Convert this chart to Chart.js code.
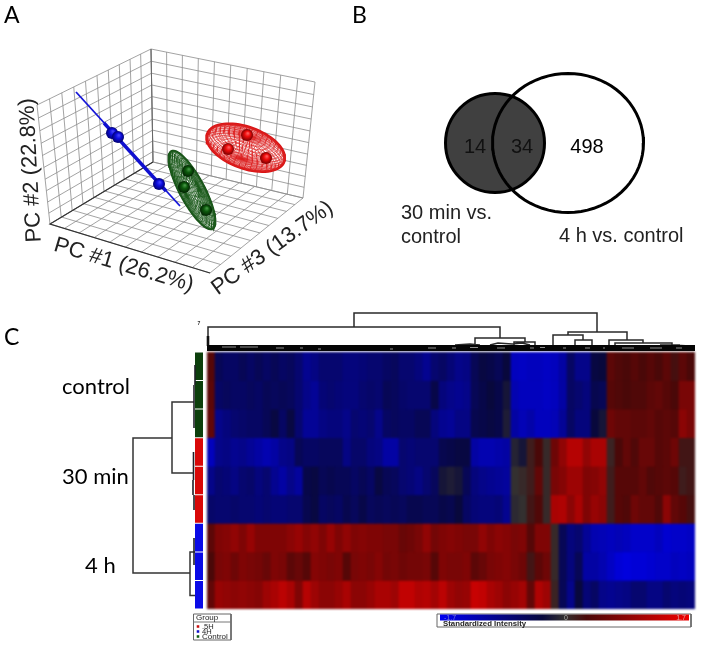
<!DOCTYPE html>
<html>
<head>
<meta charset="utf-8">
<title>PCA, Venn and heat map</title>
<script src="https://cdn.jsdelivr.net/npm/chart.js@4/dist/chart.umd.min.js"></script>
<style>
    html, body { margin: 0; padding: 0; background: #fff; }
    #page { position: relative; width: 714px; height: 651px; overflow: hidden; }
    canvas { position: absolute; filter: blur(0.3px); }
    #heat { background: #201c30; filter: blur(1px); }
</style>
</head>
<body>
<div id="page">
    <canvas id="heat"></canvas>
    <canvas id="panelA"></canvas>
    <canvas id="panelB"></canvas>
    <canvas id="panelC"></canvas>
</div>
<script>
// panel A, PCA samples
const blueSamplesX = [112, 118, 159];
const blueSamplesY = [133, 137, 184];
const greenSamplesX = [188, 184, 206];
const greenSamplesY = [171, 187, 210];
const redSamplesX = [228, 247, 266];
const redSamplesY = [149, 135, 158];
const pcLabels = ['PC #1 (26.2%)', 'PC #2 (22.8%)', 'PC #3 (13.7%)'];

// panel B
const vennCounts = ['14', '34', '498'];
const vennNames = ['30 min vs.', 'control', '4 h vs. control'];

// panel C, standardized intensity per row, 61 gene clusters
const heatRowNames = ['control 1', 'control 2', 'control 3', '30 min 1', '30 min 2', '30 min 3', '4 h 1', '4 h 2', '4 h 3'];
const heatControl1 = [.4,-.5,-.6,-.6,-.5,-.6,-.5,-.6,-.5,-.6,-.55,-.7,-.95,-.85,-.7,-.7,-.7,-.8,-.8,-.75,-.7,-.7,-.6,-.55,-.7,-.7,-.8,-.95,-.7,-.6,-.75,-.9,-.85,-.5,-.35,-.4,-.5,-.3,-1.3,-1.35,-1.3,-1.3,-1.35,-1.3,-1.1,-.6,-.9,-.9,-.35,-.3,.45,.35,.3,.4,.3,.4,.3,.45,.25,.45,.3];
const heatControl2 = [.45,-.6,-.55,-.6,-.6,-.55,-.6,-.5,-.55,-.5,-.55,-.7,-.9,-1,-.75,-.7,-.75,-.8,-.8,-.7,-.65,-.7,-.5,-.55,-.65,-.7,-.7,-.7,-.4,-.8,-.9,-.95,-.9,-.5,-.4,-.3,-.4,-.2,-1.2,-1.3,-1.3,-1.3,-1.35,-1.3,-1.1,-.6,-.7,-.8,-.45,-.5,.4,.35,.3,.35,.35,.45,.5,.4,.3,.7,.7];
const heatControl3 = [.5,-.9,-.8,-.7,-.65,-.6,-.6,-.5,-.35,-.6,-.35,-.7,-1,-1,-.85,-.8,-.8,-.9,-.7,-.75,-.7,-.9,-.6,-.55,-.6,-.6,-.5,-.5,-.8,-.95,-1,-.85,-.85,-.45,-.4,-.35,-.4,-.15,-1.1,-1.25,-1.15,-1.3,-1.3,-1.25,-1,-.6,-.8,-.8,-.3,-.2,.6,.5,.5,.45,.45,.5,.4,.45,.4,.85,.7];
const heat30min1 = [-1.3,-.9,-.85,-.95,-.9,-1,-1.1,-1.2,-1.1,-.9,-.85,-.5,-.6,-.6,-.55,-.55,-.55,-.85,-.65,-.65,-.8,-.85,-1.1,-1.1,-.7,-.75,-.7,-.7,-.7,-.45,-.4,-.35,-.35,-1.1,-1.2,-1.2,-1.15,-1.1,-.1,-.2,.15,.3,.05,.6,.9,1.2,1.2,.9,1.1,1.1,.1,.3,.5,.35,.55,.55,.4,.45,.6,.2,.2];
const heat30min2 = [-.9,-.7,-.75,-.85,-.7,-.65,-.8,-.7,-.95,-1.1,-.9,-1.05,-.4,-.35,-.5,-.45,-.5,-.5,-.6,-.5,-.6,-.35,-.5,-.55,-.7,-.75,-.85,-.7,-.55,-.2,-.15,-.2,-.5,-.8,-.9,-.95,-1,-1.05,0,.05,.15,.5,.05,.7,.8,1,1,.75,.8,.9,.15,.4,.4,.4,.5,.35,.4,.45,.4,.15,.2];
const heat30min3 = [-.65,-.7,-.7,-.65,-.7,-.7,-.75,-.7,-.75,-.75,-.7,-.7,-.45,-.35,-.6,-.55,-.6,-.45,-.55,-.4,-.55,-.5,-.55,-.5,-.55,-.45,-.45,-.5,-.5,-.4,-.45,-.3,-.6,-.75,-.8,-.8,-.75,-.95,-.05,0,.2,.35,.05,1.1,1.15,.85,1.1,.75,.95,.85,.15,.4,.35,.6,.5,.5,.35,.85,.5,.4,.25];
const heat4h1 = [.45,.75,.8,.9,.75,.95,.75,.75,.75,.75,.85,.95,.8,.9,.75,.95,.75,.9,.75,.8,.75,.75,.7,.7,.55,.6,.7,.9,.65,.75,.8,.75,.7,.7,.9,.75,.85,.8,.7,.75,.4,.75,.75,.05,-.5,-.8,-.7,-1,-1.2,-1.25,-1.3,-1.25,-1.3,-1.4,-1.4,-1.4,-1.3,-1.45,-1.4,-1.4,-1.35];
const heat4h2 = [.3,.7,.75,.6,.75,.7,.65,.55,.75,.7,.45,.55,.4,.8,.75,.7,.75,.4,.7,.75,.7,.8,.65,.7,.6,.65,.65,.7,.4,.75,.7,.7,.75,.45,.55,.7,.75,.8,.7,.6,.2,.45,.6,.05,-.5,-.8,-.5,-1.1,-1.1,-1.2,-1.35,-1.5,-1.55,-1.5,-1.5,-1.45,-1.4,-1.4,-1.3,-1.35,-1.3];
const heat4h3 = [.5,.95,.9,.85,.9,.85,.8,1,1.1,1.25,1.1,.75,1.2,1,.85,.85,.95,1.1,.85,.85,.95,1.1,1.1,1,1.3,1.3,1.15,1.2,1.05,1.25,1,.9,.95,1.35,1.3,1.1,1,.85,.95,1.05,.5,1.15,1,.1,-.5,-.9,-.3,-.75,-.6,-.9,-.95,-.9,-.85,-.7,-.7,-.85,-.85,-.7,-.8,-.75,-.8];
const heatRows = [heatControl1, heatControl2, heatControl3, heat30min1, heat30min2, heat30min3, heat4h1, heat4h2, heat4h3];
const heatColumns = heatControl1.map((v, i) => i + 1);

const groupNames = ['.5H', '4H', 'Control'];
const rowGroupNames = ['control', '30 min', '4 h'];
const intensityTicks = ['-1.7', '0', '1.7'];
const panelLetters = ['A', 'B', 'C'];

// dendrogram branches, as x,y polylines on the page scale
const topTree = [
    [354,327, 354,313, 597,313, 597,332],
    [208,347, 208,327, 500,327, 500,338],
    [475,346, 475,338, 525,338, 525,342],
    [514,346, 514,342, 535,342, 535,345],
    [568,335, 568,332, 627,332, 627,340],
    [553,347, 553,335, 583,335, 583,340],
    [575,346, 575,340, 592,340, 592,346],
    [609,347, 609,340, 643,340, 643,343],
    [615,347, 615,343, 672,343, 672,345, 690,346],
    [490,345, 498,343, 512,344, 522,343, 530,345],
    [455,345, 470,344, 480,345],
    [660,345, 680,345]
];
const topTreeGaps = [
    [222,236,347], [240,258,347], [276,284,348], [300,303,348], [318,321,349], [390,393,349],
    [428,436,348], [452,456,348], [470,478,347.5], [497,505,348], [530,534,348], [540,545,347.5],
    [563,566,348], [585,590,348], [603,605,348], [622,634,348], [650,662,348], [676,682,348]
];
const leftTree = [
    [194,402, 172,402, 172,473, 193,473],
    [172,438, 133,438, 133,573, 190,573],
    [195,552, 190,552, 190,595.5, 195,595.5]
];
const leftTreeThick = [
    [195,365, 195,385], [194,385, 194,428], [193.5,452, 193.5,480], [193,480, 193,495], [194,495, 194,510], [194,538, 194,565]
];

const heatStops = [-1.7, -0.3, 0, 0.3, 1.7];
const heatStopColors = [[0,0,240], [8,8,60], [51,48,48], [74,8,8], [240,0,0]];

function heatColor(v) {
    let i = 0;
    while (i < heatStops.length - 2 && v > heatStops[i + 1]) i++;
    const t = (v - heatStops[i]) / (heatStops[i + 1] - heatStops[i]);
    const c = heatStopColors[i].map((a, k) => Math.round(a + (heatStopColors[i + 1][k] - a) * t));
    return `rgb(${c[0]},${c[1]},${c[2]})`;
}

// points of a polyline list, with a break between the lines
function flatten(lines) {
    const pts = [];
    lines.forEach((l) => {
        for (let i = 0; i < l.length; i += 2) pts.push({x: l[i], y: l[i + 1]});
        pts.push({x: null, y: null});
    });
    return pts;
}

// lines in dataset form
function line(lines, color, width, extra) {
    return Object.assign({
        data: flatten(lines),
        showLine: true,
        borderColor: color,
        borderWidth: width,
        pointRadius: 0,
        spanGaps: false,
        fill: false,
        tension: 0,
        borderCapStyle: 'butt'
    }, extra || {});
}

// four corners -> unit square mapping
function homography(q) {
    const [a, b, c, d] = q;
    const dx1 = b[0] - c[0], dx2 = d[0] - c[0], sx = a[0] - b[0] + c[0] - d[0];
    const dy1 = b[1] - c[1], dy2 = d[1] - c[1], sy = a[1] - b[1] + c[1] - d[1];
    const den = dx1 * dy2 - dx2 * dy1;
    const g = (sx * dy2 - dx2 * sy) / den;
    const h = (dx1 * sy - sx * dy1) / den;
    return (u, v) => {
        const w = g * u + h * v + 1;
        return [
            ((b[0] - a[0] + g * b[0]) * u + (d[0] - a[0] + h * d[0]) * v + a[0]) / w,
            ((b[1] - a[1] + g * b[1]) * u + (d[1] - a[1] + h * d[1]) * v + a[1]) / w
        ];
    };
}

function wallGrid(q, n) {
    const map = homography(q);
    const lines = [];
    for (let i = 0; i <= n; i++) {
        lines.push([...map(i / n, 0), ...map(i / n, 1)]);
        lines.push([...map(0, i / n), ...map(1, i / n)]);
    }
    return lines;
}

function ellipseLine(cx, cy, a, b, deg) {
    const r = deg * Math.PI / 180;
    const out = [];
    for (let i = 0; i <= 72; i++) {
        const t = i / 72 * 2 * Math.PI;
        const u = a * Math.cos(t), v = b * Math.sin(t);
        out.push(cx + u * Math.cos(r) - v * Math.sin(r), cy + u * Math.sin(r) + v * Math.cos(r));
    }
    return out;
}

// wireframe of an ellipsoid seen at an angle
function ellipsoidMesh(cx, cy, a, b, deg, nLat, nLon) {
    const r = deg * Math.PI / 180;
    const tilt = 55 * Math.PI / 180;
    const project = (X, Y, Z) => {
        const u = a * X, v = b * (Y * Math.cos(tilt) - Z * Math.sin(tilt));
        return [cx + u * Math.cos(r) - v * Math.sin(r), cy + u * Math.sin(r) + v * Math.cos(r)];
    };
    const lines = [];
    for (let i = 1; i < nLat; i++) {
        const phi = -Math.PI / 2 + i / nLat * Math.PI;
        const l = [];
        for (let k = 0; k <= 48; k++) {
            const t = k / 48 * 2 * Math.PI;
            l.push(...project(Math.cos(phi) * Math.cos(t), Math.sin(phi), Math.cos(phi) * Math.sin(t)));
        }
        lines.push(l);
    }
    for (let i = 0; i < nLon; i++) {
        const t = i / nLon * 2 * Math.PI;
        const l = [];
        for (let k = 0; k <= 24; k++) {
            const phi = -Math.PI / 2 + k / 24 * Math.PI;
            l.push(...project(Math.cos(phi) * Math.cos(t), Math.sin(phi), Math.cos(phi) * Math.sin(t)));
        }
        lines.push(l);
    }
    return lines;
}

function spheres(xs, ys, radius, light, mid, dark) {
    return {
        data: xs.map((x, i) => ({x: x, y: ys[i]})),
        showLine: false,
        pointRadius: radius,
        pointBorderWidth: 0,
        pointHoverRadius: radius,
        pointBackgroundColor: (ctx) => {
            if (!ctx.raw) return mid;
            const px = ctx.chart.scales.x.getPixelForValue(ctx.raw.x);
            const py = ctx.chart.scales.y.getPixelForValue(ctx.raw.y);
            if (!isFinite(px) || !isFinite(py)) return mid;
            const g = ctx.chart.ctx.createRadialGradient(px + 1, py - 2, 0, px, py, radius);
            g.addColorStop(0, light);
            g.addColorStop(0.45, mid);
            g.addColorStop(1, dark);
            return g;
        }
    };
}

function textPlugin(items) {
    return {
        id: 'pageText',
        afterDatasetsDraw(chart) {
            const {ctx, scales} = chart;
            items.forEach((t) => {
                ctx.save();
                ctx.translate(scales.x.getPixelForValue(t.x), scales.y.getPixelForValue(t.y));
                ctx.rotate((t.rot || 0) * Math.PI / 180);
                ctx.font = t.font;
                ctx.fillStyle = t.color || '#000';
                ctx.textAlign = t.align || 'left';
                ctx.textBaseline = 'alphabetic';
                ctx.fillText(t.text, 0, 0);
                ctx.restore();
            });
        }
    };
}

// a chart whose hidden axes run over the page coordinates of its box
function makePanel(id, box, datasets, texts) {
    const canvas = document.getElementById(id);
    canvas.width = box.w;
    canvas.height = box.h;
    canvas.style.left = box.x + 'px';
    canvas.style.top = box.y + 'px';
    canvas.style.width = box.w + 'px';
    canvas.style.height = box.h + 'px';
    return new Chart(canvas, {
        type: 'scatter',
        // the first dataset is painted last, the lists below are in painting order
        data: {datasets: datasets.slice().reverse()},
        options: {
            responsive: false,
            animation: false,
            devicePixelRatio: 1,
            layout: {padding: 0, autoPadding: false},
            events: [],
            plugins: {legend: {display: false}, tooltip: {enabled: false}},
            scales: {
                x: {type: 'linear', display: false, min: box.x, max: box.x + box.w},
                y: {type: 'linear', display: false, reverse: true, min: box.y, max: box.y + box.h}
            }
        },
        plugins: [textPlugin(texts)]
    });
}

window.addEventListener('load', () => {
    Chart.defaults.font.family = '"Liberation Sans", Arial, sans-serif';

    // heat map
    const heatCanvas = document.getElementById('heat');
    heatCanvas.width = 488;
    heatCanvas.height = 257;
    heatCanvas.style.left = '207px';
    heatCanvas.style.top = '352px';
    heatCanvas.style.width = '488px';
    heatCanvas.style.height = '257px';
    new Chart(heatCanvas, {
        type: 'bar',
        data: {
            labels: heatColumns,
            datasets: heatRows.map((row, i) => ({
                label: heatRowNames[i],
                data: row.map(() => 1),
                backgroundColor: row.map(heatColor),
                borderWidth: 0,
                barPercentage: 1,
                categoryPercentage: 1
            }))
        },
        options: {
            responsive: false,
            animation: false,
            devicePixelRatio: 1,
            layout: {padding: 0},
            events: [],
            plugins: {legend: {display: false}, tooltip: {enabled: false}},
            scales: {
                x: {display: false, stacked: true},
                y: {display: false, stacked: true, reverse: true, min: 0, max: heatRows.length}
            }
        }
    });

    // panel A
    const backTop = [151, 49], backBottom = [153, 162], leftTop = [37, 105], leftBottom = [50, 224];
    const rightTop = [315, 82], rightBottom = [303, 198], front = [210, 273];
    const gridColor = '#8c8c8c';
    makePanel('panelA', {x: 0, y: 0, w: 350, h: 310}, [
        line(wallGrid([backTop, leftTop, leftBottom, backBottom], 10), gridColor, 0.8),
        line(wallGrid([backTop, rightTop, rightBottom, backBottom], 10), gridColor, 0.8),
        line(wallGrid([backBottom, leftBottom, front, rightBottom], 10), gridColor, 0.8),
        line([[...backBottom, ...leftBottom, ...front]], '#333', 1.2),
        line([[...backTop, ...backBottom]], '#666', 1),
        line([ellipseLine(245.7, 147.7, 41, 20.7, 20)], '#d81414', 2.6, {fill: 'shape', backgroundColor: 'rgba(255,255,255,0.85)'}),
        line(ellipsoidMesh(245.7, 147.7, 41, 20.7, 20, 22, 44), '#dc2020', 0.55),
        spheres(redSamplesX, redSamplesY, 6, '#ff6a6a', '#ee0c0c', '#7a0000'),
        line([ellipseLine(192, 190, 44, 12.5, 62)], '#164f16', 2, {fill: 'shape', backgroundColor: 'rgba(255,255,255,0.7)'}),
        line(ellipsoidMesh(192, 190, 44, 12.5, 62, 22, 34), '#1d5a1d', 0.6),
        spheres(greenSamplesX, greenSamplesY, 6, '#4da04d', '#0d5a0d', '#022202'),
        line([[76, 92, 180, 206]], '#1515d8', 1.8),
        line([[104, 123, 166, 191]], '#1010d0', 3.4),
        spheres(blueSamplesX, blueSamplesY, 6, '#4a4aff', '#0e0ee0', '#000070')
    ], [
        {text: panelLetters[0], x: 4, y: 23, font: '23px Lato'},
        {text: pcLabels[0], x: 122, y: 271, rot: 16.5, align: 'center', font: '22px "Liberation Sans"', color: '#222'},
        {text: pcLabels[1], x: 37, y: 170, rot: -93, align: 'center', font: '22px "Liberation Sans"', color: '#222'},
        {text: pcLabels[2], x: 276, y: 253, rot: -36, align: 'center', font: '22px "Liberation Sans"', color: '#222'}
    ]);

    // panel B
    makePanel('panelB', {x: 350, y: 0, w: 364, h: 260}, [
        {
            data: [{x: 495, y: 143}],
            showLine: false,
            pointRadius: 49.5,
            pointBorderWidth: 3,
            pointBorderColor: '#000',
            pointBackgroundColor: '#404040'
        },
        line([ellipseLine(568, 143, 75.5, 69.5, 0)], '#000', 3)
    ], [
        {text: panelLetters[1], x: 352, y: 23, font: '23px Lato'},
        {text: vennCounts[0], x: 475, y: 152.5, align: 'center', font: '20px "Liberation Sans"', color: '#111'},
        {text: vennCounts[1], x: 522, y: 152.5, align: 'center', font: '20px "Liberation Sans"', color: '#111'},
        {text: vennCounts[2], x: 587, y: 152.5, align: 'center', font: '20px "Liberation Sans"'},
        {text: vennNames[0], x: 401, y: 219, font: '20px "Liberation Sans"', color: '#222'},
        {text: vennNames[1], x: 401, y: 243, font: '20px "Liberation Sans"', color: '#222'},
        {text: vennNames[2], x: 559, y: 242, font: '20px "Liberation Sans"', color: '#222'}
    ]);

    // panel C, everything around the heat map
    const barTop = 352, barRow = 257 / 9;
    const colBar = (from, to, color) => line([[199, barTop + from * barRow + 0.5, 199, barTop + to * barRow - 0.5]], color, 8);
    const barColors = ['#0c3f0c', '#d80808', '#0a0ae6'];
    const swatch = (y, color) => ({
        data: [{x: 198, y: y}],
        showLine: false,
        pointStyle: 'rect',
        pointRadius: 1.8,
        pointBorderWidth: 0,
        pointBackgroundColor: color
    });
    const gapLines = topTreeGaps.map((g) => [g[0], g[2], g[1], g[2]]);
    makePanel('panelC', {x: 0, y: 300, w: 714, h: 351}, [
        line(topTree, '#2a2a2a', 1.5),
        line([[208, 336, 208, 346]], '#111', 2.6),
        line([[207, 348, 695, 348]], '#050505', 6),
        line(gapLines, 'rgba(255,255,255,0.8)', 0.7),
        line(leftTree, '#333', 1.5),
        ...heatRows.map((r, i) => colBar(i, i + 1, barColors[Math.floor(i / 3)])),
        line(leftTreeThick, '#202028', 1.6),
        // group legend
        line([[193.5, 614, 231, 614, 231, 640, 193.5, 640, 193.5, 614]], '#666', 1),
        line([[193.5, 622, 231, 622]], '#777', 1),
        swatch(626.5, '#c81010'),
        swatch(631.5, '#1010c8'),
        swatch(636.5, '#0c5a0c'),
        // intensity bar
        line([[437, 614, 691, 614, 691, 627, 437, 627, 437, 614]], '#666', 1),
        line([[440, 617.5, 689, 617.5]], '#000', 6, {
            borderColor: (ctx) => {
                const s = ctx.chart.scales.x;
                const a = s.getPixelForValue(440), b = s.getPixelForValue(689);
                if (!isFinite(a) || !isFinite(b)) return '#000';
                const g = ctx.chart.ctx.createLinearGradient(a, 0, b, 0);
                heatStops.forEach((v) => g.addColorStop((v + 1.7) / 3.4, heatColor(v)));
                return g;
            }
        })
    ], [
        {text: panelLetters[2], x: 4, y: 345, font: '23px Lato'},
        {text: rowGroupNames[0], x: 62, y: 394, font: '22px Lato'},
        {text: rowGroupNames[1], x: 62, y: 484, font: '22px Lato'},
        {text: rowGroupNames[2], x: 85, y: 573, font: '22px Lato'},
        {text: '7', x: 199, y: 325, align: 'center', font: 'bold 5px "Liberation Sans"', color: '#333'},
        {text: 'Group', x: 196, y: 620, font: '8px "Liberation Sans"', color: '#222'},
        {text: groupNames[0], x: 202, y: 628.7, font: '7.5px "Liberation Sans"', color: '#222'},
        {text: groupNames[1], x: 202, y: 633.5, font: '7.5px "Liberation Sans"', color: '#222'},
        {text: groupNames[2], x: 202, y: 639, font: '8px "Liberation Sans"', color: '#222'},
        {text: intensityTicks[0], x: 450, y: 620, align: 'center', font: '7px "Liberation Sans"', color: '#7a7ad8'},
        {text: intensityTicks[1], x: 566, y: 620, align: 'center', font: '7px "Liberation Sans"', color: '#aaa'},
        {text: intensityTicks[2], x: 681, y: 620, align: 'center', font: '7px "Liberation Sans"', color: '#e0a0a0'},
        {text: 'Standardized Intensity', x: 443, y: 626, font: 'bold 7.8px "Liberation Sans"', color: '#222'}
    ]);
});
</script>
</body>
</html>
